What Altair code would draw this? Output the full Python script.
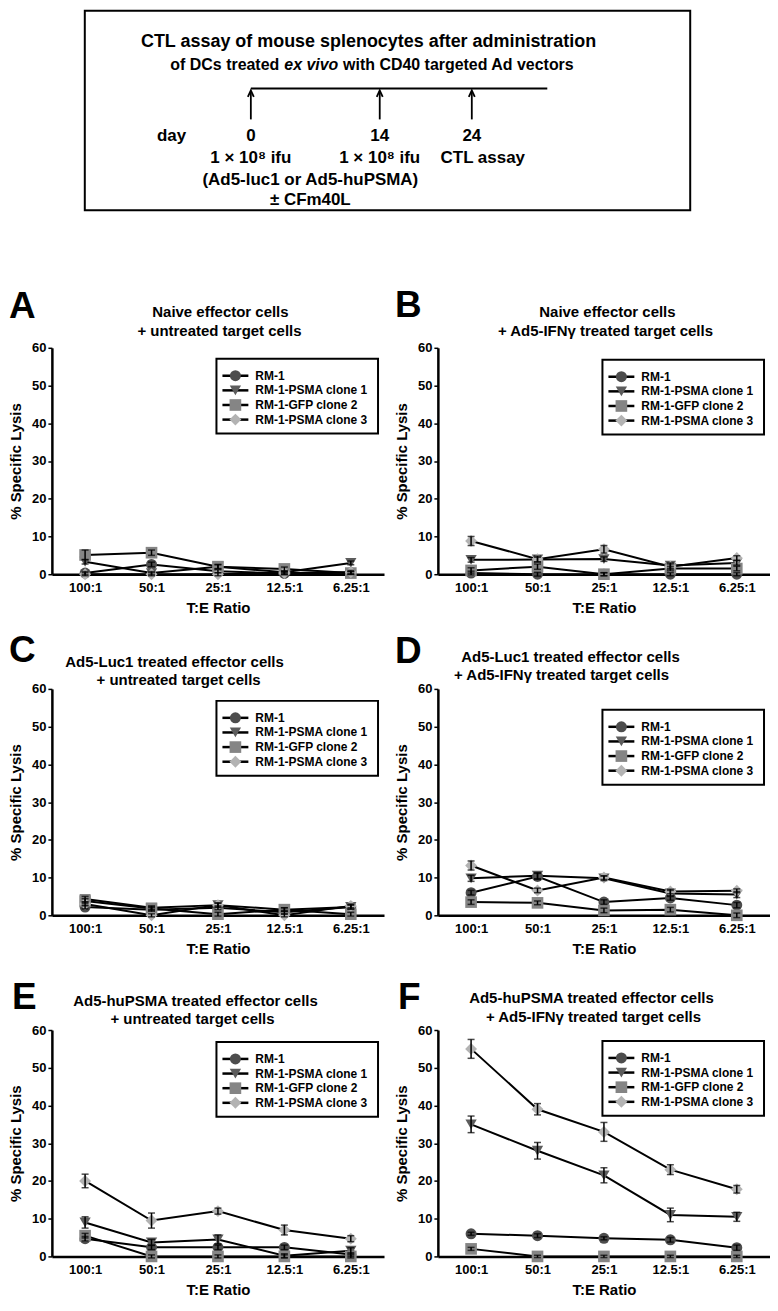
import altair as alt
import pandas as pd

FONT = "Liberation Sans"

# ---------------- data ----------------
RATIOS = ["100:1", "50:1", "25:1", "12.5:1", "6.25:1"]
SERIES = ["RM-1", "RM-1-PSMA clone 1", "RM-1-GFP clone 2", "RM-1-PSMA clone 3"]
SHAPES = ["circle", "triangle-down", "square", "diamond"]
FILLS = ["#4d4d4d", "#5c5c5c", "#858585", "#b3b3b3"]
SIZES = [121, 144, 110, 169]

# mean % specific lysis, one list per series (SERIES order), values per T:E ratio
A_MEAN = [[0.3, 2.6, 0.8, 0.2, 0.4], [3.3, 0.3, 2.0, 0.5, 3.0], [5.1, 5.7, 2.0, 1.4, 0.3], [0.0, 0.0, 0.0, 0.3, 0.5]]
A_ERR = [[0.4, 0.6, 0.4, 0.3, 0.3], [0.6, 0.4, 0.5, 0.3, 0.5], [1.3, 0.7, 0.6, 0.5, 0.4], [0.4, 0.4, 0.4, 0.4, 0.5]]
B_MEAN = [[0.3, 0.0, 0.0, 0.0, 0.0], [3.8, 3.9, 4.0, 2.3, 3.0], [1.0, 2.0, 0.0, 1.5, 1.5], [8.8, 4.0, 6.6, 2.0, 4.3]]
B_ERR = [[0.5, 0.5, 0.4, 0.4, 0.4], [0.6, 0.6, 0.6, 0.7, 0.6], [0.7, 0.7, 0.4, 0.6, 0.6], [1.2, 0.8, 1.0, 0.7, 0.6]]
C_MEAN = [[2.2, 1.5, 2.0, 0.8, 2.2], [4.3, 2.0, 2.7, 1.5, 2.2], [3.8, 1.8, 0.3, 1.5, 0.3], [3.0, 0.0, 2.7, 0.0, 2.5]]
C_ERR = [[0.5, 0.5, 0.5, 0.5, 0.5], [0.7, 0.5, 0.6, 0.5, 0.6], [0.6, 0.5, 0.5, 0.5, 0.5], [0.5, 0.4, 0.5, 0.4, 0.5]]
D_MEAN = [[6.0, 10.3, 3.5, 4.6, 2.7], [9.8, 10.5, 9.8, 5.8, 5.5], [3.5, 3.3, 1.3, 1.5, 0.0], [13.2, 6.6, 10.0, 6.3, 6.5]]
D_ERR = [[0.6, 0.8, 0.6, 0.6, 0.7], [0.8, 0.8, 0.6, 0.8, 0.8], [0.6, 0.5, 0.6, 0.6, 0.6], [1.2, 0.6, 0.5, 0.6, 0.5]]
E_MEAN = [[4.7, 2.4, 2.4, 2.4, 0.5], [9.0, 3.7, 4.5, 0.2, 1.5], [5.5, 0.0, 0.0, 0.0, 0.0], [20.0, 9.5, 12.0, 7.0, 4.7]]
E_ERR = [[0.6, 0.6, 0.6, 0.6, 0.5], [1.5, 0.8, 1.2, 0.5, 0.8], [0.6, 0.4, 0.4, 0.4, 0.4], [1.8, 2.0, 0.8, 1.3, 0.8]]
F_MEAN = [[6.0, 5.5, 4.8, 4.4, 2.3], [35.0, 28.0, 21.5, 11.0, 10.5], [2.0, 0.0, 0.0, 0.0, 0.0], [55.0, 39.0, 33.0, 23.0, 17.8]]
F_ERR = [[0.4, 0.5, 0.4, 0.6, 0.7], [2.2, 2.2, 2.0, 1.8, 1.2], [0.4, 0.3, 0.3, 0.3, 0.3], [2.5, 1.5, 2.5, 1.3, 1.0]]

# schematic timeline
DAYS = [0, 14, 24]
DAY_LABELS = ["0", "14", "24"]
EVENT_LABELS = ["1 \u00d7 10\u2078 ifu", "1 \u00d7 10\u2078 ifu", "CTL assay"]
TIMELINE_END = 32.2
VECTOR_LINES = ["(Ad5-luc1 or Ad5-huPSMA)", "\u00b1 CFm40L"]
HEADER_1 = "CTL assay of mouse splenocytes after administration"
HEADER_2 = ["of DCs treated", "ex vivo", "with CD40 targeted Ad vectors"]

ONE = pd.DataFrame({"k": [0]})


def txt(text, x, y, size, align="center", baseline="middle", style="normal", dx=0):
    return alt.Chart(ONE).mark_text(
        text=text, fontSize=size, fontWeight="bold", font=FONT, align=align,
        baseline=baseline, fontStyle=style, dx=dx, color="black"
    ).encode(x=alt.value(x), y=alt.value(y))


# ---------------- schematic ----------------
xs = alt.Scale(domain=[-21.61, 56.39])
tl = pd.DataFrame({"day": DAYS, "label": DAY_LABELS, "event": EVENT_LABELS})
span = pd.DataFrame({"start": [DAYS[0]], "end": [TIMELINE_END]})
vec = pd.DataFrame({"day": [sum(DAYS[:2]) / 2], "l1": [VECTOR_LINES[0]], "l2": [VECTOR_LINES[1]]})
XD = alt.X("day:Q", scale=xs, axis=None)

box = alt.Chart(ONE).mark_rect(fill="white", stroke="black", strokeWidth=2).encode(
    x=alt.value(33), x2=alt.value(640), y=alt.value(0), y2=alt.value(200))
hline = alt.Chart(span).mark_rule(color="black", strokeWidth=2).encode(
    x=alt.X("start:Q", scale=xs, axis=None), x2="end:Q", y=alt.value(78))
shaft = alt.Chart(tl).mark_rule(color="black", strokeWidth=1.8).encode(
    x=XD, y=alt.value(81), y2=alt.value(109))
head = alt.Chart(tl).mark_point(shape="M-0.6,1.3L0,0L0.6,1.3", filled=False, color="black",
                                strokeWidth=1.8, size=100, opacity=1).encode(x=XD, y=alt.value(80))
tstyle = dict(fontSize=17, fontWeight="bold", font=FONT, color="black")
daynum = alt.Chart(tl).mark_text(**tstyle).encode(x=XD, y=alt.value(126), text="label:N")
ev1 = alt.Chart(tl.iloc[:2]).mark_text(**tstyle).encode(x=XD, y=alt.value(148), text="event:N")
ev2 = alt.Chart(tl.iloc[2:]).mark_text(dx=11, **tstyle).encode(x=XD, y=alt.value(148), text="event:N")
v1 = alt.Chart(vec).mark_text(dx=-5, **tstyle).encode(x=XD, y=alt.value(170), text="l1:N")
v2 = alt.Chart(vec).mark_text(dx=-5, **tstyle).encode(x=XD, y=alt.value(190), text="l2:N")

diagram = alt.layer(
    box, hline, shaft, head, daynum, ev1, ev2, v1, v2,
    txt("day", 120, 126, 17),
    txt(HEADER_1, 317.5, 31, 18),
    txt(HEADER_2[0], 228, 54, 16, align="right"),
    txt(HEADER_2[1], 233, 54, 16, align="left", style="italic"),
    txt(HEADER_2[2], 292, 54, 16, align="left"),
).properties(width=720, height=200)


# ---------------- panels ----------------
W, H = 333, 227


def panel(letter, lines, line_x, line_y, letter_pos, dy, mean, err):
    rows = []
    for si, s in enumerate(SERIES):
        for ri, r in enumerate(RATIOS):
            m, e = mean[si][ri], err[si][ri]
            rows.append({"ratio": r, "series": s, "value": m, "lo": m - e, "hi": m + e})
    df = pd.DataFrame(rows)
    base = alt.Chart(df)

    X = alt.X("ratio:N", sort=RATIOS, scale=alt.Scale(type="point", padding=0.5),
              axis=alt.Axis(title="T:E Ratio", labelAngle=0, ticks=False, tickSize=0,
                            domainWidth=2.5, labelFontSize=13, labelFontWeight="bold",
                            titleFontSize=15, titleFontWeight="bold", labelPadding=7,
                            titlePadding=6))
    ysc = alt.Scale(domain=[0, 60], nice=False)
    Yax = alt.Y("value:Q", scale=ysc,
                axis=alt.Axis(title="% Specific Lysis", values=[0, 10, 20, 30, 40, 50, 60],
                              tickSize=4, tickWidth=1.5, domainWidth=2.5, labelFontSize=13,
                              labelFontWeight="bold", labelPadding=2, titlePadding=8,
                              titleFontSize=15, titleFontWeight="bold"))
    color = alt.Color("series:N", scale=alt.Scale(domain=SERIES, range=FILLS), legend=None)
    shape = alt.Shape("series:N", scale=alt.Scale(domain=SERIES, range=SHAPES), legend=None)
    size = alt.Size("series:N", scale=alt.Scale(domain=SERIES, range=SIZES), legend=None)

    line = base.mark_line(color="black", strokeWidth=2).encode(x=X, y=Yax, detail="series:N")
    pts = base.mark_point(filled=True, opacity=1, strokeWidth=0).encode(
        x=X, y=alt.Y("value:Q", scale=ysc, axis=None), color=color, shape=shape, size=size)
    ebar = base.mark_rule(color="black", strokeWidth=1.5).encode(
        x=X, y=alt.Y("lo:Q", scale=ysc, axis=None), y2="hi:Q")
    cap_hi = base.mark_tick(color="black", thickness=1.5, size=7).encode(
        x=X, y=alt.Y("hi:Q", scale=ysc, axis=None))
    cap_lo = base.mark_tick(color="black", thickness=1.5, size=7).encode(
        x=X, y=alt.Y("lo:Q", scale=ysc, axis=None))

    # legend
    leg = alt.Chart(pd.DataFrame({"series": SERIES}))
    LY = alt.Y("series:N", sort=SERIES,
               scale=alt.Scale(type="point", domain=SERIES, range=[28 + dy, 72 + dy], padding=0),
               axis=None)
    lbox = alt.Chart(ONE).mark_rect(fill="white", stroke="black", strokeWidth=2).encode(
        x=alt.value(165), x2=alt.value(327), y=alt.value(11 + dy), y2=alt.value(86 + dy))
    lline = leg.mark_rule(color="black", strokeWidth=2.5).encode(
        x=alt.value(171), x2=alt.value(197), y=LY)
    lpts = leg.mark_point(filled=True, opacity=1, strokeWidth=0).encode(
        x=alt.value(184), y=LY, color=color, shape=shape, size=size)
    ltxt = leg.mark_text(align="left", baseline="middle", fontSize=12, fontWeight="bold",
                         font=FONT, color="black").encode(x=alt.value(204), y=LY, text="series:N")

    titles = [txt(lines[i], line_x[i], line_y[i], 15) for i in range(2)]
    lab = txt(letter, letter_pos[0], letter_pos[1], 37, align="left", baseline="alphabetic")

    return alt.layer(line, pts, ebar, cap_hi, cap_lo, lbox, lline, lpts, ltxt, lab, *titles
                     ).resolve_scale(y="independent").properties(width=W, height=H)


pA = panel("A", ["Naive effector cells", "+ untreated target cells"], [169, 168], [-36, -17],
           (-43, -30), 0, A_MEAN, A_ERR)
pB = panel("B", ["Naive effector cells", "+ Ad5-IFN\u03b3 treated target cells"], [170, 168],
           [-36, -17], (-43, -31), 1, B_MEAN, B_ERR)
pC = panel("C", ["Ad5-Luc1 treated effector cells", "+ untreated target cells"], [123, 127],
           [-27, -9], (-43, -27), 1, C_MEAN, C_ERR)
pD = panel("D", ["Ad5-Luc1 treated effector cells", "+ Ad5-IFN\u03b3 treated target cells"],
           [133, 124], [-32, -14], (-43, -26), 10, D_MEAN, D_ERR)
pE = panel("E", ["Ad5-huPSMA treated effector cells", "+ untreated target cells"], [144, 141],
           [-29, -11], (-40, -21), 1, E_MEAN, E_ERR)
pF = panel("F", ["Ad5-huPSMA treated effector cells", "+ Ad5-IFN\u03b3 treated target cells"],
           [154, 156], [-32, -13], (-40, -21), 0, F_MEAN, F_ERR)

grid = alt.concat(pA, pB, pC, pD, pE, pF, columns=2,
                  spacing={"row": 115, "column": 54}, bounds="flush")

chart = alt.vconcat(diagram, grid, spacing=138, bounds="flush").properties(
    padding=0
).configure(font=FONT).configure_view(stroke=None).configure_axis(
    labelColor="black", titleColor="black", domainColor="black", tickColor="black", grid=False
)

chart.save("out.html", embed_options={"renderer": "svg", "actions": False})
